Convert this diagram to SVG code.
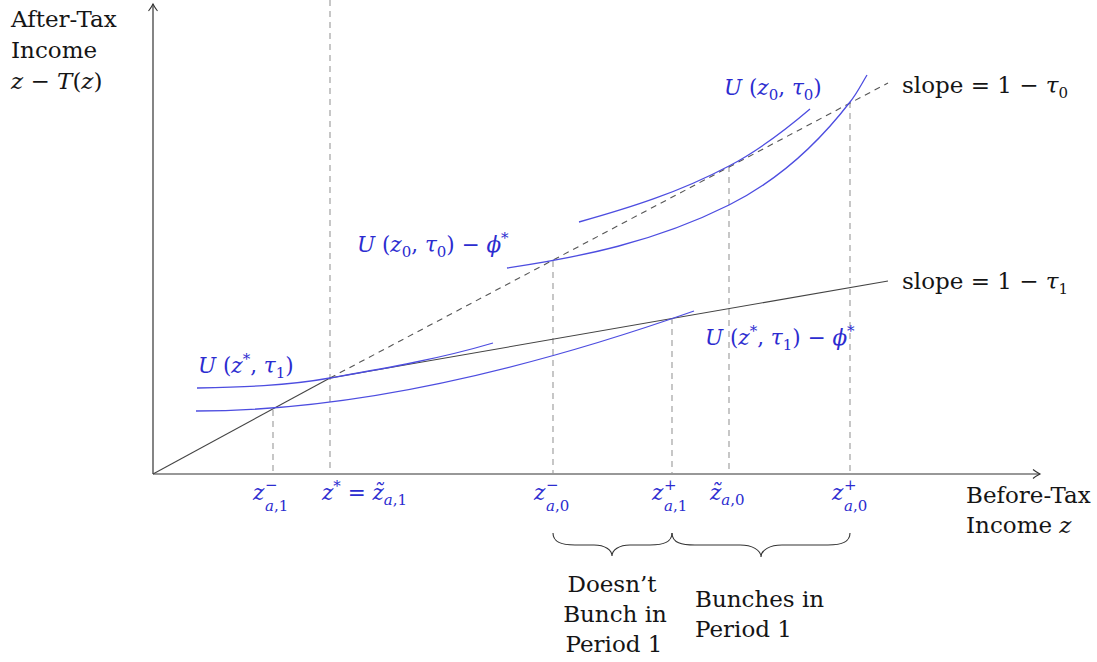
<svg xmlns="http://www.w3.org/2000/svg" width="1097" height="662" viewBox="0 0 1097 662">
<defs>
<marker id="arr" viewBox="-8 -6 10 12" markerWidth="10" markerHeight="12" refX="0" refY="0" orient="auto" markerUnits="userSpaceOnUse">
<path d="M-7,-4.5 C-4,-2 -1,-0.5 0,0 C-1,0.5 -4,2 -7,4.5" fill="none" stroke="#333" stroke-width="1.1"/>
</marker>
<style>
.ax{stroke:#333;stroke-width:1.2;fill:none}
.bl{stroke:#444;stroke-width:1.1;fill:none}
.dd{stroke:#555;stroke-width:1.1;fill:none;stroke-dasharray:6 5}
.vd{stroke:#999;stroke-width:1.1;fill:none;stroke-dasharray:6 5}
.cu{stroke:#4d4de0;stroke-width:1.3;fill:none}
.br{stroke:#333;stroke-width:1.1;fill:none}
text{font-family:"DejaVu Serif","Liberation Serif",serif;font-size:23px;fill:#151515}
.m{fill:#2c2cd0;font-size:21.5px}
.i{font-style:italic}
.s{font-size:15px}
</style>
</defs>
<g id="axes">
<line class="ax" x1="153" y1="474" x2="153" y2="4" marker-end="url(#arr)"/>
<line class="ax" x1="153" y1="474" x2="1040" y2="474" marker-end="url(#arr)"/>
</g>
<g id="guides">
<line class="vd" x1="273" y1="410" x2="273" y2="474"/>
<line class="vd" x1="330" y1="0" x2="330" y2="474"/>
<line class="vd" x1="553" y1="261" x2="553" y2="474"/>
<line class="vd" x1="672" y1="318" x2="672" y2="474"/>
<line class="vd" x1="729" y1="166" x2="729" y2="474"/>
<line class="vd" x1="850" y1="102" x2="850" y2="474"/>
</g>
<g id="budget">
<line class="bl" x1="153" y1="474" x2="330" y2="378"/>
<line class="bl" x1="330" y1="378" x2="888" y2="281"/>
<line class="dd" x1="330" y1="378" x2="888" y2="83"/>
</g>
<g id="curves">
<path class="cu" d="M197,388 C241,387 286,386 330,378 C384,368.5 439,359 493,343"/>
<path class="cu" d="M196,411 Q409,411 694,311"/>
<path class="cu" d="M507,268 C581,257 655,242 729,205 C769,185 810,154 850,102 C856,95 861,85 867,75"/>
<path class="cu" d="M579,222 C629,208 679,192.5 729,166 C756,152 783,132 810,109"/>
</g>
<g id="braces">
<path class="br" d="M553,533 C553,543 563,545 575,545 L594,545 C605,545 612,550 612,556 C612,550 619,545 630,545 L650,545 C662,545 672,543 672,533"/>
<path class="br" d="M672,533 C672,543 682,545 695,545 L740,545 C752,545 761,550 761,557 C761,550 770,545 782,545 L828,545 C840,545 850,543 850,533"/>
</g>
<g id="labels">
<text x="11" y="27">After-Tax</text>
<text x="11" y="58">Income</text>
<text x="11" y="89"><tspan class="i">z</tspan> − <tspan class="i">T</tspan>(<tspan class="i">z</tspan>)</text>
<text x="966" y="503">Before-Tax</text>
<text x="966" y="533">Income <tspan class="i">z</tspan></text>
<text x="902" y="93">slope = 1 − <tspan class="i">τ</tspan><tspan class="s" dy="5">0</tspan></text>
<text x="902" y="289">slope = 1 − <tspan class="i">τ</tspan><tspan class="s" dy="5">1</tspan></text>
<text class="m" x="724" y="95"><tspan class="i">U</tspan> (<tspan class="i">z</tspan><tspan class="s" dy="5">0</tspan><tspan dy="-5">, </tspan><tspan class="i">τ</tspan><tspan class="s" dy="5">0</tspan><tspan dy="-5">)</tspan></text>
<text class="m" x="357" y="252"><tspan class="i">U</tspan> (<tspan class="i">z</tspan><tspan class="s" dy="5">0</tspan><tspan dy="-5">, </tspan><tspan class="i">τ</tspan><tspan class="s" dy="5">0</tspan><tspan dy="-5">) − </tspan><tspan class="i">ϕ</tspan><tspan class="s" dy="-9">*</tspan></text>
<text class="m" x="705" y="345"><tspan class="i">U</tspan> (<tspan class="i">z</tspan><tspan class="s" dy="-9">*</tspan><tspan dy="9">, </tspan><tspan class="i">τ</tspan><tspan class="s" dy="5">1</tspan><tspan dy="-5">) − </tspan><tspan class="i">ϕ</tspan><tspan class="s" dy="-9">*</tspan></text>
<text class="m" x="198" y="373"><tspan class="i">U</tspan> (<tspan class="i">z</tspan><tspan class="s" dy="-9">*</tspan><tspan dy="9">, </tspan><tspan class="i">τ</tspan><tspan class="s" dy="5">1</tspan><tspan dy="-5">)</tspan></text>
</g>
<g id="ticks">
<text class="m" x="253" y="500"><tspan class="i">z</tspan><tspan class="s" x="265" dy="-10">−</tspan><tspan class="s i" x="265" dy="21">a</tspan><tspan class="s">,1</tspan></text>
<text class="m" x="322" y="500"><tspan class="i">z</tspan><tspan class="s" dy="-9">*</tspan><tspan dy="9"> = </tspan><tspan class="i">z̃</tspan><tspan class="s i" dy="5">a</tspan><tspan class="s">,1</tspan></text>
<text class="m" x="534" y="500"><tspan class="i">z</tspan><tspan class="s" x="546" dy="-10">−</tspan><tspan class="s i" x="546" dy="21">a</tspan><tspan class="s">,0</tspan></text>
<text class="m" x="652" y="500"><tspan class="i">z</tspan><tspan class="s" x="664" dy="-10">+</tspan><tspan class="s i" x="664" dy="21">a</tspan><tspan class="s">,1</tspan></text>
<text class="m" x="710" y="500"><tspan class="i">z̃</tspan><tspan class="s i" dy="5">a</tspan><tspan class="s">,0</tspan></text>
<text class="m" x="832" y="500"><tspan class="i">z</tspan><tspan class="s" x="844" dy="-10">+</tspan><tspan class="s i" x="844" dy="21">a</tspan><tspan class="s">,0</tspan></text>
</g>
<g id="notes">
<text x="612" y="592" text-anchor="middle">Doesn’t</text>
<text x="615" y="622" text-anchor="middle">Bunch in</text>
<text x="614" y="652" text-anchor="middle">Period 1</text>
<text x="695" y="607">Bunches in</text>
<text x="695" y="637">Period 1</text>
</g>
</svg>
